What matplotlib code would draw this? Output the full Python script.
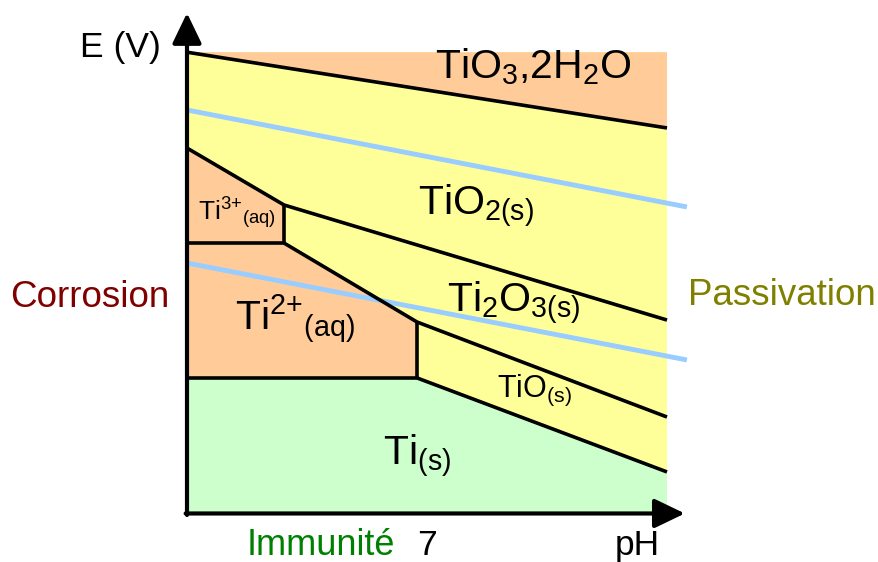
import numpy as np
import matplotlib.pyplot as plt

plt.rcParams['font.family'] = ['Liberation Sans', 'DejaVu Sans']
plt.rcParams['mathtext.fontset'] = 'custom'
plt.rcParams['mathtext.rm'] = 'Liberation Sans'

# Diagram limits (pH, E in V)
ph_min, ph_max = 0.0, 14.0
e_bot, e_top = -2.02, 1.70

# Boundary points
ph_kink1 = 2.83          # Ti3+ / Ti2O3 / TiO2 triple point
ph_kink2 = 6.71          # Ti2+ / TiO / Ti2O3 / Ti triple point
water_ph = [0.0, 14.58]
water_up = [1.234, 0.452]    # O2 / H2O
water_low = [0.0, -0.782]    # H2O / H2

tio3_ph = [0.0, 14.0]
tio3_e = [1.70, 1.089]

ti3_top_ph = [0.0, ph_kink1, 14.0]
ti3_top_e = [0.927, 0.468, -0.46]
ti3_ti2_e = 0.161

ti2_ph = [ph_kink1, ph_kink2, 14.0]
ti2_e = [0.161, -0.476, -1.242]
ti_ti2_e = -0.927

tio_ti_ph = [ph_kink2, 14.0]
tio_ti_e = [-0.927, -1.685]

orange = '#FFCC99'
yellow = '#FFFF99'
green = '#CCFFCC'
blue = '#99CCFF'

fig = plt.figure(figsize=(8.79, 5.62), dpi=100)
ax = fig.add_axes([0, 0, 1, 1])
# pixel-matched view: 34.29 px per pH unit, 124 px per volt
ax.set_xlim(-187 / 34.2857, (879 - 187) / 34.2857)
ax.set_ylim((263 - 562) / 124, 263 / 124)
ax.axis('off')

# Background = passivation (yellow)
ax.fill([ph_min, ph_max, ph_max, ph_min], [e_bot, e_bot, e_top, e_top], color=yellow, lw=0)

# TiO3,2H2O region
ax.fill([tio3_ph[0], tio3_ph[1], tio3_ph[1], tio3_ph[0]],
        [tio3_e[0], tio3_e[1], e_top, e_top], color=orange, lw=0)

# Ti3+ region
ax.fill([0, ph_kink1, ph_kink1, 0],
        [ti3_top_e[0], ti3_top_e[1], ti3_ti2_e, ti3_ti2_e], color=orange, lw=0)

# Ti2+ region
ax.fill([0, ph_kink1, ph_kink2, ph_kink2, 0],
        [ti3_ti2_e, ti2_e[0], ti2_e[1], ti_ti2_e, ti_ti2_e], color=orange, lw=0)

# Ti (immunity) region
ax.fill([0, ph_kink2, ph_max, ph_max, 0],
        [ti_ti2_e, tio_ti_e[0], tio_ti_e[1], e_bot, e_bot], color=green, lw=0)

# Water stability lines
ax.plot(water_ph, water_up, color=blue, lw=3.5, solid_capstyle='butt')
ax.plot(water_ph, water_low, color=blue, lw=3.5, solid_capstyle='butt')

# Black boundaries
kw = dict(color='black', lw=2.6, solid_capstyle='butt')
ax.plot(tio3_ph, tio3_e, **kw)
ax.plot(ti3_top_ph, ti3_top_e, **kw)
ax.plot([ph_kink1, ph_kink1], [ti3_top_e[1], ti3_ti2_e], **kw)
ax.plot([0, ph_kink1], [ti3_ti2_e, ti3_ti2_e], **kw)
ax.plot(ti2_ph, ti2_e, **kw)
ax.plot([ph_kink2, ph_kink2], [ti2_e[1], ti_ti2_e], **kw)
ax.plot([0, ph_kink2], [ti_ti2_e, ti_ti2_e], **kw)
ax.plot(tio_ti_ph, tio_ti_e, **kw)

# Axes with arrows
arr = dict(arrowstyle='-|>,head_length=1.87,head_width=0.9', mutation_scale=10,
           color='black', lw=3, shrinkA=0, shrinkB=0)
ax.annotate('', xy=(0, 2.016), xytext=(0, e_bot - 0.012), arrowprops=arr)
ax.annotate('', xy=(14.52, e_bot), xytext=(-0.04, e_bot), arrowprops=arr)

# Species labels
big = 29.5
ax.text(7.23, 1.49, r'$\mathregular{TiO_3{,}2H_2O}$', fontsize=big, ha='left', va='baseline')
ax.text(6.74, 0.387, r'$\mathregular{TiO_{2(s)}}$', fontsize=big, ha='left', va='baseline')
ax.text(7.58, -0.395, r'$\mathregular{Ti_2O_{3(s)}}$', fontsize=big, ha='left', va='baseline')
ax.text(5.71, -1.63, r'$\mathregular{Ti_{(s)}}$', fontsize=big, ha='left', va='baseline')
ax.text(1.40, -0.54, r'$\mathregular{Ti^{2{+}}{}_{(aq)}}$', fontsize=big, ha='left', va='baseline')
ax.text(0.32, 0.347, r'$\mathregular{Ti^{3{+}}{}_{(aq)}}$', fontsize=19, ha='left', va='baseline')
ax.text(9.04, -1.08, r'$\mathregular{TiO_{(s)}}$', fontsize=22, ha='left', va='baseline')

# Axis names and zones
ax.text(-3.12, 1.661, 'E (V)', fontsize=25.5, ha='left', va='baseline')
ax.text(12.48, -2.355, 'pH', fontsize=25.5, ha='left', va='baseline')
ax.text(7.0, -2.355, '7', fontsize=25.5, ha='center', va='baseline')
ax.text(-5.16, -0.355, 'Corrosion', fontsize=26.5, color='#800000', ha='left', va='baseline')
ax.text(14.61, -0.339, 'Passivation', fontsize=26.5, color='#808000', ha='left', va='baseline')
ax.text(1.75, -2.355, 'Immunité', fontsize=26, color='#008000', ha='left', va='baseline')

plt.savefig('out.png', dpi=100)
plt.close()
